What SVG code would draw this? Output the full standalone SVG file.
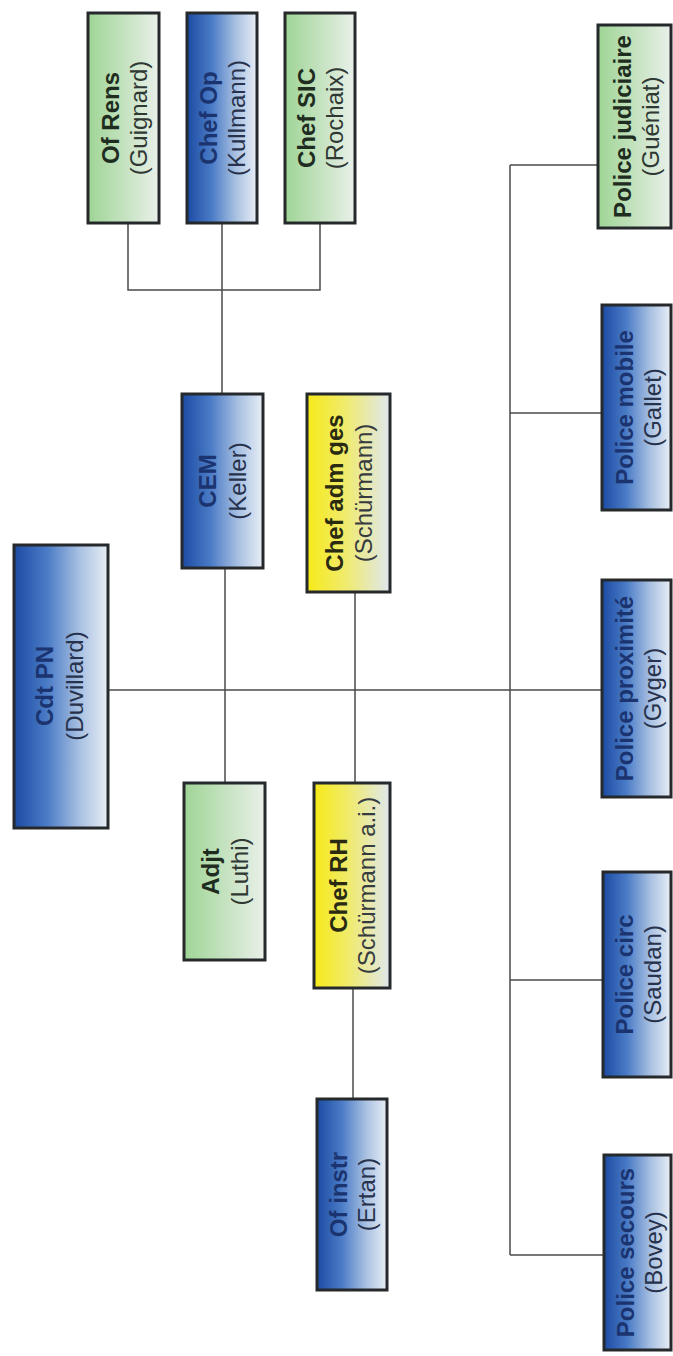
<svg xmlns="http://www.w3.org/2000/svg" width="673" height="1356" viewBox="0 0 673 1356">
<defs>
<linearGradient id="gBlue" x1="0" y1="0" x2="1" y2="0">
<stop offset="0" stop-color="#1c4ba3"/>
<stop offset="0.35" stop-color="#4a7bc6"/>
<stop offset="0.7" stop-color="#a9c1e2"/>
<stop offset="1" stop-color="#e8eef5"/>
</linearGradient>
<linearGradient id="gGreen" x1="0" y1="0" x2="1" y2="0">
<stop offset="0" stop-color="#9fd596"/>
<stop offset="0.5" stop-color="#c4e2bf"/>
<stop offset="1" stop-color="#eaf0ea"/>
</linearGradient>
<linearGradient id="gYellow" x1="0" y1="0" x2="1" y2="0">
<stop offset="0" stop-color="#f6ea18"/>
<stop offset="0.45" stop-color="#f0eb6a"/>
<stop offset="1" stop-color="#dfe7ee"/>
</linearGradient>
</defs>
<style>
.box{stroke:#26292c;stroke-width:3}
.blue{fill:url(#gBlue)}
.green{fill:url(#gGreen)}
.yellow{fill:url(#gYellow)}
.t1{font-family:"Liberation Sans",Arial,sans-serif;font-weight:bold;font-size:24px;text-anchor:middle}
.t2{font-family:"Liberation Sans",Arial,sans-serif;font-size:24px;text-anchor:middle}
.blue-t .t1{fill:#1b3470}
.blue-t .t2{fill:#27324d}
.green-t .t1{fill:#1f2c20}
.green-t .t2{fill:#2f3833}
.yellow-t .t1{fill:#2a2a12}
.yellow-t .t2{fill:#363b40}
.conn{stroke:#4a4a4a;stroke-width:1.5;fill:none}
</style>
<rect width="673" height="1356" fill="#ffffff"/>
<g id="connectors" class="conn">
<path d="M128 224 V290 H320 V224"/>
<path d="M222 224 V394"/>
<path d="M108 690 H602"/>
<path d="M225 568 V783"/>
<path d="M355 592 V783"/>
<path d="M353 988 V1099"/>
<path d="M510 165 V1255"/>
<path d="M510 165 H598"/>
<path d="M510 413 H602"/>
<path d="M510 980 H603"/>
<path d="M510 1255 H604"/>
</g>
<g id="cdt-pn" class="blue-t">
<rect class="box blue" x="14" y="545" width="94" height="283"/>
<g transform="translate(61 686) rotate(-90)"><text class="t1" x="0" y="-8">Cdt PN</text><text class="t2" x="0" y="22">(Duvillard)</text></g>
</g>
<g id="cem" class="blue-t">
<rect class="box blue" x="182" y="394" width="81" height="174"/>
<g transform="translate(222.5 481) rotate(-90)"><text class="t1" x="0" y="-7">CEM</text><text class="t2" x="0" y="23">(Keller)</text></g>
</g>
<g id="adjt" class="green-t">
<rect class="box green" x="184" y="783" width="81" height="177"/>
<g transform="translate(224.5 871.5) rotate(-90)"><text class="t1" x="0" y="-6">Adjt</text><text class="t2" x="0" y="23">(Luthi)</text></g>
</g>
<g id="chef-adm-ges" class="yellow-t">
<rect class="box yellow" x="307" y="394" width="83" height="198"/>
<g transform="translate(348.5 493) rotate(-90)"><text class="t1" x="0" y="-6">Chef adm ges</text><text class="t2" x="0" y="23">(Schürmann)</text></g>
</g>
<g id="chef-rh" class="yellow-t">
<rect class="box yellow" x="314" y="783" width="76" height="205"/>
<g transform="translate(352 885.5) rotate(-90)"><text class="t1" x="0" y="-5">Chef RH</text><text class="t2" x="0" y="23">(Schürmann a.i.)</text></g>
</g>
<g id="of-instr" class="blue-t">
<rect class="box blue" x="317" y="1099" width="70" height="191"/>
<g transform="translate(352 1194.5) rotate(-90)"><text class="t1" x="0" y="-5">Of instr</text><text class="t2" x="0" y="23">(Ertan)</text></g>
</g>
<g id="of-rens" class="green-t">
<rect class="box green" x="88" y="13" width="71" height="210"/>
<g transform="translate(123.5 118) rotate(-90)"><text class="t1" x="0" y="-5">Of Rens</text><text class="t2" x="0" y="23">(Guignard)</text></g>
</g>
<g id="chef-op" class="blue-t">
<rect class="box blue" x="187" y="13" width="70" height="210"/>
<g transform="translate(222 118) rotate(-90)"><text class="t1" x="0" y="-5">Chef Op</text><text class="t2" x="0" y="23">(Kullmann)</text></g>
</g>
<g id="chef-sic" class="green-t">
<rect class="box green" x="285" y="13" width="70" height="210"/>
<g transform="translate(320 118) rotate(-90)"><text class="t1" x="0" y="-5">Chef SIC</text><text class="t2" x="0" y="23">(Rochaix)</text></g>
</g>
<g id="police-judiciaire" class="green-t">
<rect class="box green" x="598" y="25" width="73" height="203"/>
<g transform="translate(634.5 126.5) rotate(-90)"><text class="t1" x="0" y="-4">Police judiciaire</text><text class="t2" x="0" y="24">(Guéniat)</text></g>
</g>
<g id="police-mobile" class="blue-t">
<rect class="box blue" x="602" y="305" width="69" height="205"/>
<g transform="translate(636.5 407.5) rotate(-90)"><text class="t1" x="0" y="-4">Police mobile</text><text class="t2" x="0" y="24">(Gallet)</text></g>
</g>
<g id="police-proximite" class="blue-t">
<rect class="box blue" x="602" y="580" width="69" height="217"/>
<g transform="translate(636.5 688.5) rotate(-90)"><text class="t1" x="0" y="-4">Police proximité</text><text class="t2" x="0" y="24">(Gyger)</text></g>
</g>
<g id="police-circ" class="blue-t">
<rect class="box blue" x="603" y="872" width="68" height="205"/>
<g transform="translate(637 974.5) rotate(-90)"><text class="t1" x="0" y="-4">Police circ</text><text class="t2" x="0" y="24">(Saudan)</text></g>
</g>
<g id="police-secours" class="blue-t">
<rect class="box blue" x="604" y="1155" width="67" height="195"/>
<g transform="translate(637.5 1252.5) rotate(-90)"><text class="t1" x="0" y="-4">Police secours</text><text class="t2" x="0" y="24">(Bovey)</text></g>
</g>
</svg>
